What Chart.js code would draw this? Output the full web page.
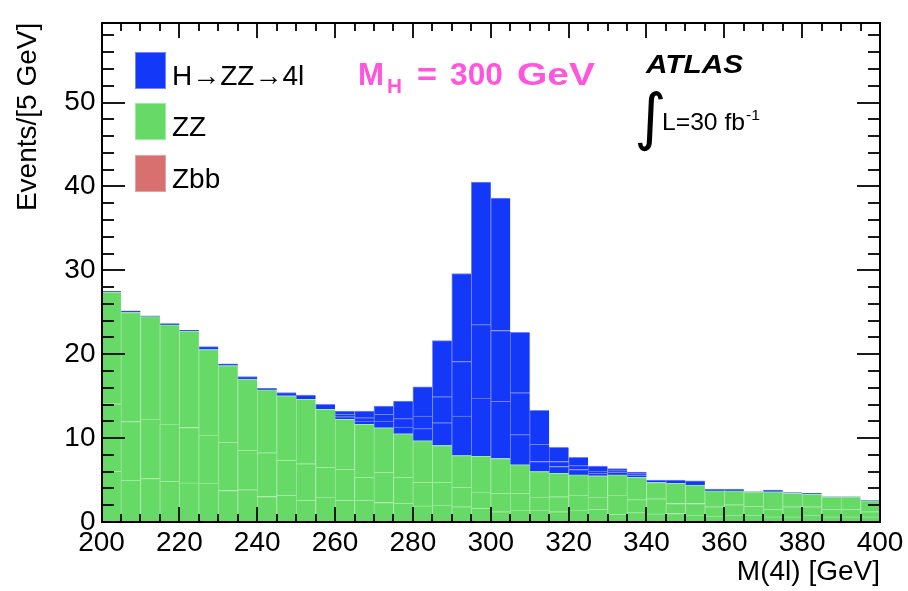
<!DOCTYPE html>
<html>
<head>
<meta charset="utf-8">
<script src="https://cdn.jsdelivr.net/npm/chart.js@4.4.0/dist/chart.umd.min.js"></script>
<style>
  html, body { margin: 0; padding: 0; background: #fff; }
  canvas { display: block; }
</style>
</head>
<body>
<canvas id="massChart" width="908" height="591"></canvas>
<script>
// lower edge of each 5 GeV bin
const massBins = [200, 205, 210, 215, 220, 225, 230, 235, 240, 245,
                  250, 255, 260, 265, 270, 275, 280, 285, 290, 295,
                  300, 305, 310, 315, 320, 325, 330, 335, 340, 345,
                  350, 355, 360, 365, 370, 375, 380, 385, 390, 395];

// Zbb background (barely visible)
const zbb = [0.08, 0.07, 0.07, 0.06, 0.06, 0.05, 0.05, 0.04, 0.04, 0.04,
             0.03, 0.03, 0.03, 0.03, 0.02, 0.02, 0.02, 0.02, 0.02, 0.02,
             0.02, 0.01, 0.01, 0.01, 0.01, 0.01, 0.01, 0.01, 0.01, 0.01,
             0.01, 0.01, 0.01, 0.01, 0.01, 0.01, 0.01, 0.01, 0.01, 0.01];

// ZZ background, three stacked channels
const zzLow = [5.95, 4.9, 5.1, 4.8, 4.6, 4.6, 3.7, 3.8, 3.0, 3.15,
               2.55, 2.95, 2.55, 2.55, 2.3, 2.2, 1.9, 2.0, 1.8, 1.6,
               1.2, 1.4, 1.4, 1.2, 1.4, 1.5, 0.9, 1.1, 0.95, 1.0,
               0.8, 0.7, 0.8, 0.8, 0.6, 0.6, 0.8, 0.6, 0.6, 0.6];
const zzMid = [8.05, 7.0, 7.1, 6.8, 6.6, 5.7, 5.75, 4.7, 5.2, 4.15,
               4.35, 3.55, 3.7, 2.75, 3.6, 3.1, 2.8, 2.7, 2.3, 1.95,
               2.2, 2.0, 1.55, 1.8, 1.8, 1.45, 2.3, 1.55, 1.8, 1.2,
               1.4, 1.1, 1.25, 1.05, 0.9, 1.2, 1.0, 0.9, 0.9, 0.6];
const zzTop = [13.3, 13.0, 12.2, 11.85, 11.5, 10.2, 9.15, 8.5, 7.5, 7.7,
               7.7, 6.9, 5.95, 6.3, 5.3, 5.2, 4.95, 4.4, 3.8, 4.25,
               4.15, 3.4, 3.05, 2.8, 2.4, 2.55, 2.4, 2.65, 1.95, 2.4,
               2.2, 1.9, 1.65, 1.7, 2.1, 1.6, 1.5, 1.45, 1.45, 1.3];

// H -> ZZ -> 4l signal, three stacked channels
const higgsLow = [0.1, 0.2, 0.1, 0.15, 0.1, 0.35, 0.2, 0.3, 0.2, 0.4,
                  0.5, 0.6, 0.3, 0.4, 0.8, 0.8, 1.45, 2.7, 4.7, 6.95,
                  6.8, 3.6, 1.2, 0.8, 0.65, 0.3, 0.3, 0.25, 0.3, 0.4,
                  0.5, 0.2, 0.2, 0.05, 0.2, 0.1, 0.1, 0.05, 0.05, 0.05];
const higgsMid = [0, 0, 0, 0, 0, 0, 0, 0, 0, 0,
                  0, 0, 0.3, 0.4, 0.8, 1.0, 1.5, 3.1, 6.5, 8.75,
                  8.45, 5.0, 2.05, 0.6, 0.45, 0.25, 0.2, 0.2, 0, 0,
                  0, 0, 0, 0, 0, 0, 0, 0, 0, 0];
const higgsTop = [0, 0, 0, 0, 0, 0, 0, 0, 0, 0,
                  0, 0, 0.4, 0.8, 1.0, 2.1, 3.5, 6.7, 10.5, 17.0,
                  15.8, 7.2, 4.05, 1.7, 1.0, 0.6, 0.25, 0.2, 0, 0,
                  0, 0, 0, 0, 0, 0, 0, 0, 0, 0];

const legendNames = ["H\u2192ZZ\u21924l", "ZZ", "Zbb"];
const yTickLabels = [0, 10, 20, 30, 40, 50];
const xTickLabels = [200, 220, 240, 260, 280, 300, 320, 340, 360, 380, 400];

const BLUE = "#1438f8", BLUE_LINE = "#7484ff";
const GREEN = "#66d966", GREEN_LINE = "#9eea9e";
const RED = "#d87070", RED_LINE = "#e8a0a0";

const FONT = '"Liberation Sans", Arial, Helvetica, sans-serif';
Chart.defaults.font.family = FONT;
Chart.defaults.color = "#000";

const points = (vals) => vals.map((v, i) => ({ x: massBins[i] + 2.5, y: v }));

function layer(label, vals, fill, line) {
    return {
        label: label,
        data: points(vals),
        backgroundColor: fill,
        borderColor: line,
        borderWidth: { top: 1, left: 1, right: 0, bottom: 0 },
        borderSkipped: false,
        stack: "mc",
        barPercentage: 1,
        categoryPercentage: 1,
    };
}

// draws text squeezed/stretched to a given width
function fitText(ctx, str, x, y, width, font) {
    ctx.font = font;
    const w = ctx.measureText(str).width;
    ctx.save();
    ctx.translate(x, y);
    ctx.scale(width / w, 1);
    ctx.fillText(str, 0, 0);
    ctx.restore();
}

const rootStyle = {
    id: "rootStyle",
    afterDraw: (chart) => {
        const ctx = chart.ctx;
        const a = chart.chartArea;
        const x = chart.scales.x, y = chart.scales.y;
        const L = Math.round(a.left), R = Math.round(a.right);
        const T = Math.round(a.top), B = Math.round(a.bottom);
        ctx.save();

        // inward ticks on all four sides, drawn as thin filled rects
        ctx.fillStyle = "#1a1a1a";
        for (let v = 200; v <= 400; v += 5) {
            const px = Math.round(x.getPixelForValue(v));
            const len = v % 20 === 0 ? 15 : 8;
            ctx.fillRect(px - 1, B - len, 2, len);
            ctx.fillRect(px - 1, T, 2, len);
        }
        for (let v = 0; v <= 58; v += 2) {
            const py = Math.round(y.getPixelForValue(v));
            const len = v % 10 === 0 ? 23 : 12;
            ctx.fillRect(L, py - 1, len, 2);
            ctx.fillRect(R - len, py - 1, len, 2);
        }

        // frame
        ctx.fillStyle = "#000";
        ctx.fillRect(L - 1, T - 1, R - L + 2, 2);
        ctx.fillRect(L - 1, B - 1, R - L + 2, 2);
        ctx.fillRect(L - 1, T - 1, 2, B - T + 2);
        ctx.fillRect(R - 1, T - 1, 2, B - T + 2);

        // legend
        const boxes = [[BLUE, BLUE_LINE, 52], [GREEN, GREEN_LINE, 103], [RED, RED_LINE, 155]];
        boxes.forEach(([fill, line, top], i) => {
            ctx.fillStyle = line;
            ctx.fillRect(135, top, 31, 37);
            ctx.fillStyle = fill;
            ctx.fillRect(136, top + 1, 29, 35);
            ctx.fillStyle = "#000";
            ctx.textAlign = "left";
            ctx.textBaseline = "alphabetic";
            ctx.font = `28px ${FONT}`;
            ctx.fillText(legendNames[i], 172, top + 33);
        });

        // M_H label
        ctx.fillStyle = "#ff55dd";
        fitText(ctx, "M", 358, 85, 26, `bold 32px ${FONT}`);
        fitText(ctx, "H", 387, 93, 15, `bold 20px ${FONT}`);
        fitText(ctx, "=", 417, 85, 20, `bold 32px ${FONT}`);
        fitText(ctx, "300", 450, 85, 53, `bold 32px ${FONT}`);
        fitText(ctx, "GeV", 517, 85, 78, `bold 32px ${FONT}`);

        // ATLAS, luminosity
        ctx.fillStyle = "#000";
        fitText(ctx, "ATLAS", 646, 73, 97, `italic bold 25px ${FONT}`);
        ctx.font = `62px "DejaVu Sans"`;
        ctx.fillText("\u222B", 634, 138);
        fitText(ctx, "L=30 fb", 662, 130, 83, `24px ${FONT}`);
        fitText(ctx, "-1", 746, 120, 14, `15px ${FONT}`);

        ctx.restore();
    }
};

new Chart(document.getElementById("massChart"), {
    type: "bar",
    data: {
        datasets: [
            layer("Zbb", zbb, RED, RED_LINE),
            layer("ZZ", zzLow, GREEN, GREEN_LINE),
            layer("ZZ", zzMid, GREEN, GREEN_LINE),
            layer("ZZ", zzTop, GREEN, GREEN_LINE),
            layer("H\u2192ZZ\u21924l", higgsLow, BLUE, BLUE_LINE),
            layer("H\u2192ZZ\u21924l", higgsMid, BLUE, BLUE_LINE),
            layer("H\u2192ZZ\u21924l", higgsTop, BLUE, BLUE_LINE),
        ]
    },
    options: {
        responsive: false,
        animation: false,
        layout: { padding: { top: 13, right: 28, left: 0, bottom: 0 } },
        plugins: {
            legend: { display: false },
            tooltip: { enabled: false },
        },
        scales: {
            x: {
                type: "linear",
                stacked: true,
                offset: false,
                min: 200,
                max: 400,
                grid: { display: false, drawTicks: false },
                border: { display: false },
                afterFit: (s) => { s.height = 69; },
                afterBuildTicks: (s) => { s.ticks = xTickLabels.map(v => ({ value: v })); },
                ticks: {
                    font: { size: 28 },
                    padding: 4,
                    maxRotation: 0,
                    autoSkip: false,
                },
                title: {
                    display: true,
                    text: "M(4l) [GeV]",
                    align: "end",
                    font: { size: 28 },
                    padding: { top: 0, bottom: 2 },
                },
            },
            y: {
                stacked: true,
                min: 0,
                max: 59.5,
                grid: { display: false, drawTicks: false },
                border: { display: false },
                afterFit: (s) => { s.width = 101.5; },
                afterBuildTicks: (s) => { s.ticks = yTickLabels.map(v => ({ value: v })); },
                ticks: {
                    font: { size: 28 },
                    padding: 6,
                },
                title: {
                    display: true,
                    text: "Events/[5 GeV]",
                    align: "end",
                    font: { size: 28 },
                    padding: { top: 11, bottom: 0 },
                },
            },
        },
    },
    plugins: [rootStyle],
});
</script>
</body>
</html>
